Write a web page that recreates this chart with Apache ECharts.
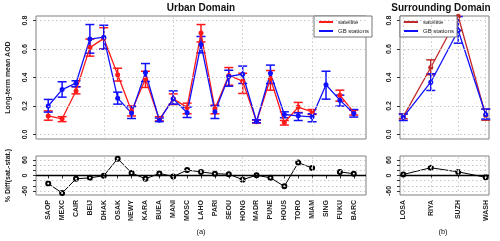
<!DOCTYPE html>
<html><head><meta charset="utf-8">
<script src="https://cdn.jsdelivr.net/npm/echarts@6/dist/echarts.min.js"></script>
<style>html,body{margin:0;padding:0;background:#fff}#c{width:500px;height:241px}</style>
</head><body><div id="c"></div>
<script>
// ---------- data ----------
const urbanCities = ['SAOP','MEXC','CAIR','BEIJ','DHAK','OSAK','NEWY','KARA','BUEA','MANI','MOSC','LAHO','PARI','SEOU','HONG','MADR','PUNE','HOUS','TORO','MIAM','SING','FUKU','BARC'];
const urbanSat   = [0.130,0.110,0.305,0.610,0.675,0.420,0.165,0.390,0.105,0.250,0.190,0.713,0.180,0.414,0.374,0.090,0.393,0.084,0.192,0.159,null,0.276,0.155];
const urbanSatLo = [0.100,0.090,0.285,0.550,0.600,0.375,0.130,0.330,0.095,0.210,0.145,0.650,0.145,0.346,0.288,0.080,0.311,0.066,0.154,0.140,null,0.234,0.136];
const urbanSatHi = [0.165,0.125,0.335,0.670,0.750,0.465,0.200,0.444,0.125,0.285,0.220,0.772,0.206,0.470,0.430,0.100,0.449,0.098,0.225,0.175,null,0.311,0.171];
const urbanStat   = [0.200,0.315,0.360,0.670,0.683,0.255,0.150,0.435,0.100,0.250,0.152,0.632,0.159,0.407,0.423,0.091,0.430,0.140,0.131,0.124,0.349,0.241,0.147];
const urbanStatLo = [0.157,0.262,0.335,0.571,0.599,0.213,0.112,0.372,0.090,0.213,0.119,0.573,0.112,0.339,0.358,0.082,0.358,0.117,0.098,0.089,0.248,0.199,0.122];
const urbanStatHi = [0.246,0.370,0.377,0.772,0.767,0.297,0.196,0.498,0.115,0.306,0.192,0.688,0.201,0.451,0.480,0.103,0.487,0.159,0.152,0.145,0.444,0.276,0.175];
const urbanDiff = [-31,-68,-13,-9,-1,65,10,-13,8,-4,21,14,7,5,-16,1,-9,-42,50,29,null,14,7];

const surCities = ['LOSA','RIYA','SUZH','WASH'];
const surSat   = [0.125,0.470,0.830,0.133];
const surSatLo = [0.110,0.419,0.730,0.100];
const surSatHi = [0.145,0.524,0.930,0.178];
const surStat   = [0.122,0.367,0.730,0.140];
const surStatLo = [0.098,0.309,0.641,0.108];
const surStatHi = [0.143,0.426,0.828,0.178];
const surDiff = [4,30,14,-7];

const aodTicks = [0, 0.2, 0.4, 0.6, 0.8];
const diffTicks = [-60, -40, -20, 0, 20, 40, 60];
const diffLabels = [-60, 0, 60];
const urbanGridX = [5, 10, 15, 20];
const surGridX = [1, 2, 3, 4];

// ---------- helpers ----------
const FONT = 'Liberation Sans, Arial, sans-serif';
const idx = arr => arr.map((v, i) => [i + 1, v]);
const errData = (lo, hi) => lo.map((l, i) => [i + 1, l, hi[i]]).filter(d => d[1] != null);
function errRender(color) {
  return function (params, api) {
    const x = api.value(0), lo = api.value(1), hi = api.value(2);
    const p1 = api.coord([x, lo]), p2 = api.coord([x, hi]);
    const cs = params.coordSys;
    const top = cs.y, bot = cs.y + cs.height;
    const cl = v => Math.min(Math.max(v, top), bot);
    const st = { stroke: color, lineWidth: 1.5 };
    const ch = [{ type: 'line', shape: { x1: p1[0], y1: cl(p1[1]), x2: p1[0], y2: cl(p2[1]) }, style: st }];
    [p1, p2].forEach(p => {
      if (p[1] >= top - 0.5 && p[1] <= bot + 0.5)
        ch.push({ type: 'line', shape: { x1: p[0] - 4.5, y1: p[1], x2: p[0] + 4.5, y2: p[1] }, style: st });
    });
    return { type: 'group', children: ch };
  };
}
function gridLines(xs, ys) {
  const data = [];
  xs.forEach(v => data.push({ xAxis: v }));
  ys.forEach(v => data.push({ yAxis: v }));
  return { silent: true, symbol: 'none', label: { show: false },
    lineStyle: { color: '#c8c8c8', type: [1.5, 2.5], width: 1 }, data, animation: false };
}
const hiddenX = (gi, min, max) => ({ type: 'value', gridIndex: gi, min, max,
  axisLine: { show: false }, axisTick: { show: false }, axisLabel: { show: false }, splitLine: { show: false } });
const yAxisDef = (gi, min, max, ticks, labels, fmt) => ({ type: 'value', gridIndex: gi, min, max,
  axisLine: { show: false }, splitLine: { show: false },
  axisTick: { show: true, customValues: ticks, length: 3, lineStyle: { color: '#333' } },
  axisLabel: { customValues: labels, rotate: 90, margin: 7, fontSize: 7, fontWeight: 'bold', color: '#222', fontFamily: FONT, formatter: fmt } });
const labelX = (gi, min, max, names) => ({ type: 'value', gridIndex: gi, min, max,
  axisLine: { show: false }, splitLine: { show: false },
  axisTick: { show: true, customValues: names.map((n, i) => i + 1), length: 3, lineStyle: { color: '#333' } },
  axisLabel: { customValues: names.map((n, i) => i + 1), rotate: 90, margin: 5, fontSize: 7, fontWeight: 'bold', color: '#222', fontFamily: FONT,
    formatter: v => names[Math.round(v) - 1] || '' } });

const RED = '#ff1a1a', BLUE = '#1010ff', DRED = '#c02a2a';
const lineS = (name, xi, yi, data, color, extra) => Object.assign({ name, type: 'line', xAxisIndex: xi, yAxisIndex: yi, data,
  color, lineStyle: { width: 1.3, color }, itemStyle: { color }, symbol: 'circle', symbolSize: 5, showSymbol: true,
  connectNulls: false, animation: false, z: 3 }, extra || {});
const errS = (xi, yi, data, color) => ({ type: 'custom', xAxisIndex: xi, yAxisIndex: yi, data, renderItem: errRender(color),
  animation: false, z: 2, silent: true });
const diffS = (xi, yi, data, gx, gy) => ({ type: 'line', xAxisIndex: xi, yAxisIndex: yi, data, color: '#000',
  lineStyle: { width: 1, color: '#000' }, symbol: 'emptyCircle', symbolSize: 4, showSymbol: true, showAllSymbol: true,
  itemStyle: { color: '#000', borderColor: '#000', borderWidth: 0.9 }, connectNulls: false, animation: false, z: 3,
  markLine: gridLines(gx, gy) });

const chart = echarts.init(document.getElementById('c'), null, { renderer: 'canvas' });
const titleStyle = { fontSize: 10, fontWeight: 'bold', fill: '#111', fontFamily: FONT, align: 'center', verticalAlign: 'middle' };
const subStyle = { fontSize: 7.5, fill: '#111', fontFamily: FONT, align: 'center', verticalAlign: 'middle' };
const option = {
  backgroundColor: '#fff',
  textStyle: { fontFamily: FONT },
  legend: [
    { data: ['satellite', 'GB stations'], left: 314, top: 16, orient: 'vertical', icon: 'rect', itemWidth: 14, itemHeight: 2,
      itemGap: 1, padding: [2, 3, 2, 5], backgroundColor: '#fff', borderColor: '#777', borderWidth: 1, borderRadius: 0,
      textStyle: { fontSize: 6, color: '#222', fontFamily: FONT, lineHeight: 8 }, selectedMode: false },
    { data: ['satellite ', 'GB stations '], left: 400, top: 16, orient: 'vertical', icon: 'rect', itemWidth: 14, itemHeight: 2,
      itemGap: 1, padding: [2, 3, 2, 4], backgroundColor: '#fff', borderColor: '#777', borderWidth: 1, borderRadius: 0,
      formatter: n => n.trim(),
      textStyle: { fontSize: 6, color: '#222', fontFamily: FONT, lineHeight: 8 }, selectedMode: false }
  ],
  grid: [
    { left: 36, top: 16, width: 330, height: 123, show: true, borderColor: '#808080', borderWidth: 1, backgroundColor: 'transparent' },
    { left: 400, top: 16, width: 89, height: 123, show: true, borderColor: '#808080', borderWidth: 1, backgroundColor: 'transparent' },
    { left: 36, top: 156, width: 330, height: 39, show: true, borderColor: '#808080', borderWidth: 1, backgroundColor: 'transparent' },
    { left: 400, top: 156, width: 89, height: 39, show: true, borderColor: '#808080', borderWidth: 1, backgroundColor: 'transparent' }
  ],
  xAxis: [
    hiddenX(0, 0.12, 23.88),
    hiddenX(1, 0.88, 4.12),
    labelX(2, 0.12, 23.88, urbanCities),
    labelX(3, 0.88, 4.12, surCities)
  ],
  yAxis: [
    yAxisDef(0, -0.032, 0.832, aodTicks, aodTicks, v => v.toFixed(1)),
    yAxisDef(1, -0.032, 0.832, aodTicks, aodTicks, v => v.toFixed(1)),
    yAxisDef(2, -75.6, 75.6, diffTicks, diffLabels, v => String(v)),
    yAxisDef(3, -75.6, 75.6, diffTicks, diffLabels, v => String(v))
  ],
  graphic: [
    { type: 'text', x: 201, y: 8, style: Object.assign({ text: 'Urban Domain' }, titleStyle) },
    { type: 'text', x: 441, y: 8, style: Object.assign({ text: 'Surrounding Domain' }, titleStyle) },
    { type: 'text', x: 201, y: 232, style: Object.assign({ text: '(a)' }, subStyle) },
    { type: 'text', x: 443, y: 232, style: Object.assign({ text: '(b)' }, subStyle) },
    { type: 'text', x: 8, y: 77.5, rotation: Math.PI / 2, style: { text: 'Long-term mean AOD', fontSize: 7, fontWeight: 'bold', fill: '#222', fontFamily: FONT, align: 'center', verticalAlign: 'middle' } },
    { type: 'text', x: 8, y: 175.5, rotation: Math.PI / 2, style: { text: '% Diff(sat.-stat.)', fontSize: 7, fontWeight: 'bold', fill: '#222', fontFamily: FONT, align: 'center', verticalAlign: 'middle' } }
  ],
  series: [
    errS(0, 0, errData(urbanSatLo, urbanSatHi), RED),
    lineS('satellite', 0, 0, idx(urbanSat), RED, { markLine: gridLines(urbanGridX, aodTicks) }),
    errS(0, 0, errData(urbanStatLo, urbanStatHi), BLUE),
    lineS('GB stations', 0, 0, idx(urbanStat), BLUE),
    errS(1, 1, errData(surSatLo, surSatHi), DRED),
    lineS('satellite ', 1, 1, idx(surSat), DRED, { markLine: gridLines(surGridX, aodTicks) }),
    errS(1, 1, errData(surStatLo, surStatHi), BLUE),
    lineS('GB stations ', 1, 1, idx(surStat), BLUE),
    diffS(2, 2, idx(urbanDiff), urbanGridX, diffTicks),
    diffS(3, 3, idx(surDiff), surGridX, diffTicks),
    { type: 'line', xAxisIndex: 2, yAxisIndex: 2, data: [], markLine: { silent: true, symbol: 'none', label: { show: false },
      lineStyle: { color: '#000', type: 'solid', width: 1.3 }, data: [{ yAxis: 0 }], animation: false } },
    { type: 'line', xAxisIndex: 3, yAxisIndex: 3, data: [], markLine: { silent: true, symbol: 'none', label: { show: false },
      lineStyle: { color: '#000', type: 'solid', width: 1.3 }, data: [{ yAxis: 0 }], animation: false } }
  ]
};
chart.setOption(option);
</script></body></html>
